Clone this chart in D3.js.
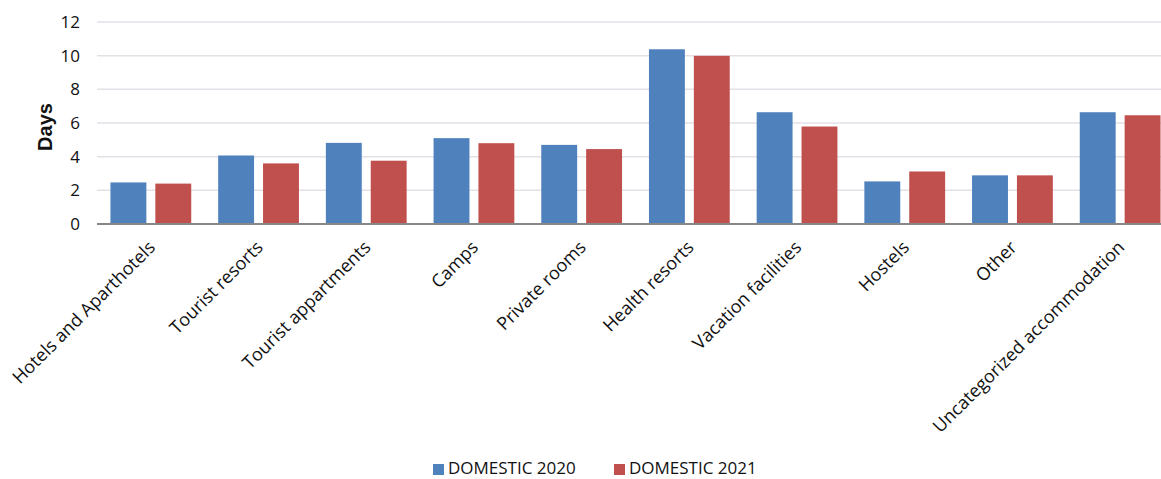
<!DOCTYPE html>
<html>
<head>
<meta charset="utf-8">
<script src="https://cdn.jsdelivr.net/npm/d3@7/dist/d3.min.js"></script>
<style>
  body { margin: 0; background: #fff; }
  svg text { font-family: "Open Sans", "Liberation Sans", sans-serif; fill: #111; }
</style>
</head>
<body>
<div id="chart"></div>
<script>
var categories = ["Hotels and Aparthotels", "Tourist resorts", "Tourist appartments", "Camps",
  "Private rooms", "Health resorts", "Vacation facilities", "Hostels", "Other",
  "Uncategorized accommodation"];
var seriesNames = ["DOMESTIC 2020", "DOMESTIC 2021"];
var domestic2020 = [2.47, 4.07, 4.82, 5.1, 4.7, 10.38, 6.64, 2.53, 2.89, 6.64];
var domestic2021 = [2.4, 3.6, 3.76, 4.8, 4.45, 9.99, 5.79, 3.12, 2.89, 6.46];
var yTicks = [0, 2, 4, 6, 8, 10, 12];

var colors = ["#4f81bd", "#c0504d"];
var width = 1161, height = 479;
var margin = {left: 97, right: -13, top: 22, bottom: 255};

var svg = d3.select("#chart").append("svg")
  .attr("width", width).attr("height", height);

var x0 = d3.scaleBand().domain(categories)
  .range([margin.left, width - margin.right])
  .paddingInner(0.25).paddingOuter(0.125);
var x1 = d3.scaleBand().domain(seriesNames)
  .range([0, x0.bandwidth()]).paddingInner(0.2);
var y = d3.scaleLinear().domain([0, 12]).range([height - margin.bottom, margin.top]);

// gridlines
svg.append("g").selectAll("line").data(yTicks.filter(d => d > 0)).enter()
  .append("line")
  .attr("x1", margin.left).attr("x2", width)
  .attr("y1", d => y(d)).attr("y2", d => y(d))
  .attr("stroke", "#e5dfe8").attr("stroke-width", 1.5);

// y tick labels
var yAxis = svg.append("g").attr("transform", "translate(" + (margin.left - 10) + ",0)")
  .call(d3.axisLeft(y).tickValues(yTicks).tickSize(0).tickPadding(7));
yAxis.select(".domain").remove();
yAxis.selectAll("text").style("font-size", "17px").attr("fill", "#111");

svg.append("text")
  .attr("transform", "translate(52,127) rotate(-90)")
  .attr("text-anchor", "middle")
  .style("font-family", "'Liberation Sans', Arial, sans-serif")
  .style("font-weight", "bold").style("font-size", "20px")
  .text("Days");

// bars
var rows = categories.map((c, i) => ({cat: c, vals: [domestic2020[i], domestic2021[i]]}));
var groups = svg.append("g").selectAll("g").data(rows).enter()
  .append("g").attr("transform", d => "translate(" + x0(d.cat) + ",0)");
groups.selectAll("rect")
  .data(d => d.vals.map((v, j) => ({name: seriesNames[j], v: v, j: j})))
  .enter().append("rect")
  .attr("x", d => x1(d.name))
  .attr("width", x1.bandwidth())
  .attr("y", d => y(d.v))
  .attr("height", d => y(0) - y(d.v))
  .attr("fill", d => colors[d.j]);

// x axis
var xAxis = svg.append("g").attr("transform", "translate(0," + y(0) + ")")
  .call(d3.axisBottom(x0).tickSize(0));
xAxis.select(".domain").attr("stroke", "#878787").attr("stroke-width", 2)
  .attr("d", "M" + margin.left + ",0H" + width);
xAxis.selectAll("text")
  .style("font-size", "18px").attr("fill", "#111")
  .attr("text-anchor", "end")
  .attr("dy", "0.35em")
  .attr("transform", "translate(1,20) rotate(-45)")
  .attr("y", 0).attr("x", 0);

// legend
var legend = svg.append("g").selectAll("g").data(seriesNames).enter()
  .append("g").attr("transform", (d, i) => "translate(" + (433 + i * 181) + ",464)");
legend.append("rect").attr("width", 11).attr("height", 11).attr("fill", (d, i) => colors[i]);
legend.append("text").attr("x", 15).attr("y", 10)
  .style("font-size", "17px").text(d => d);
</script>
</body>
</html>
